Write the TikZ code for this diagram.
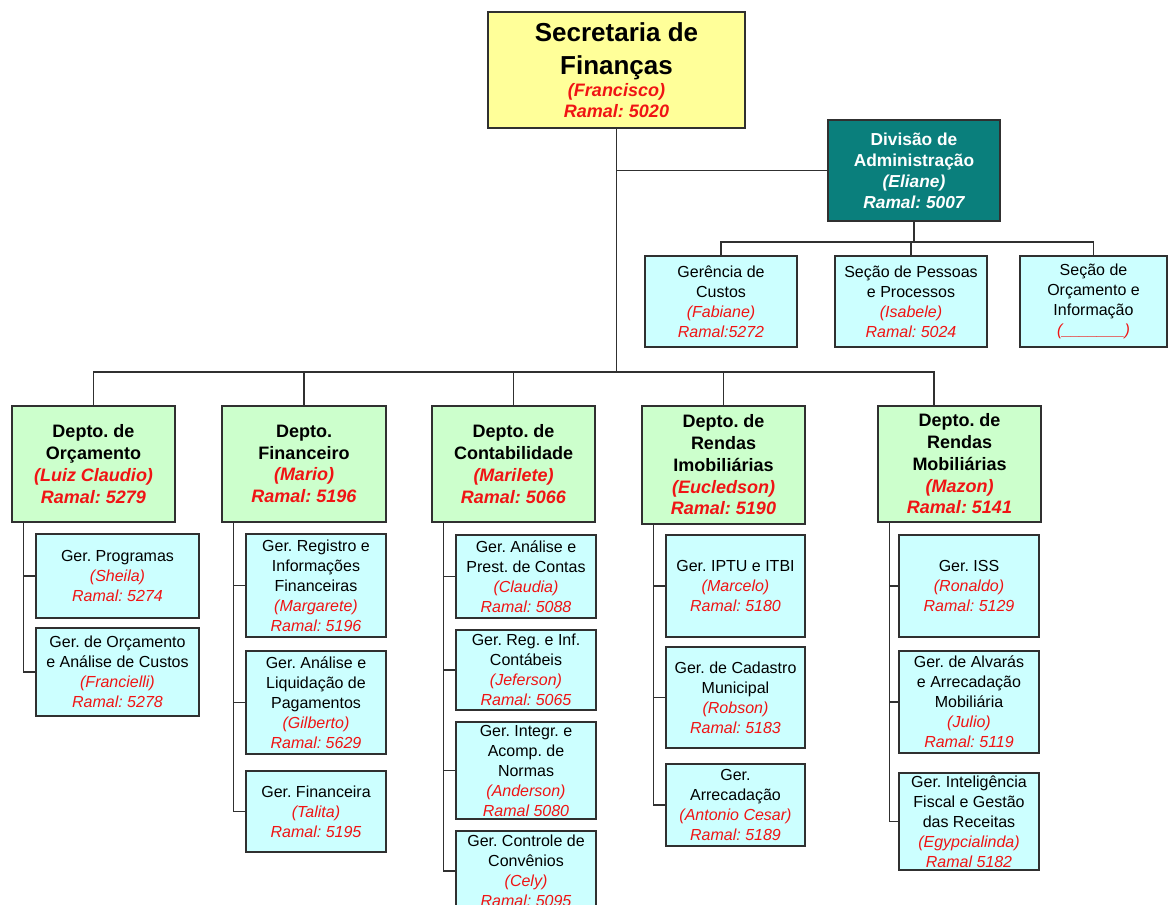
\documentclass[tikz,border=0pt]{standalone}
\usepackage{fontspec}
\setmainfont{Liberation Sans}
\usetikzlibrary{calc}
\frenchspacing
\definecolor{yel}{HTML}{FFFF99}
\definecolor{tealbox}{HTML}{0A7F7C}
\definecolor{grn}{HTML}{CCFFCC}
\definecolor{cyn}{HTML}{CCFFFF}
\definecolor{rd}{HTML}{F01414}
\definecolor{bd}{HTML}{303030}
\newcommand\obox[7]{\node[#1, minimum width={(#5-#3)*0.75pt}, minimum height={(#6-#4)*0.75pt}] (#2) at ({(#3+#5)/2},{(#4+#6)/2}) {#7};}
\newcommand\rn[1]{{\color{rd}\itshape #1}}
\newcommand\rtop[1]{{\fontsize{13.5}{16.5}\selectfont\color{rd}\itshape #1}}
\newcommand\ital[1]{{\itshape #1}}
\tikzset{
  orgbox/.style={draw=bd, line width=1pt, inner sep=1pt, align=center},
  topbox/.style={orgbox, fill=yel, font=\fontsize{19.5}{24.75}\selectfont\bfseries},
  divbox/.style={orgbox, fill=tealbox, text=white, font=\fontsize{13}{15.75}\selectfont\bfseries},
  depbox/.style={orgbox, fill=grn, font=\fontsize{13.5}{16.3}\selectfont\bfseries},
  subbox/.style={orgbox, fill=cyn, font=\fontsize{12}{15}\selectfont},
  link/.style={draw=bd, line width=0.9pt},
}
\begin{document}
\begin{tikzpicture}[x=0.75pt,y=-0.75pt]
\clip (0,0) rectangle (1169,905);
\fill[white] (0,0) rectangle (1169,905);
% top
\obox{topbox}{sec}{488}{12}{745}{128}{Secretaria de\\ Finanças\\[-8.25pt] \rtop{(Francisco)}\\[-9pt] \rtop{Ramal: 5020}}
\obox{divbox}{div}{828}{120}{1000}{221}{Divisão de\\ Administração\\ \ital{(Eliane)}\\ \ital{Ramal: 5007}}
% row 2
\obox{subbox}{gc}{645}{256}{797}{347}{Gerência de\\ Custos\\ \rn{(Fabiane)}\\ \rn{Ramal:5272}}
\obox{subbox}{spp}{835}{256}{987}{347}{Seção de Pessoas\\ e Processos\\ \rn{(Isabele)}\\ \rn{Ramal: 5024}}
\obox{subbox}{soi}{1020}{256}{1167}{347}{Seção de\\ Orçamento e\\ Informação\\ \rn{(\_\_\_\_\_\_\_)}}
% deptos
\obox{depbox}{d1}{12}{406}{175}{522}{Depto. de\\ Orçamento\\ \rn{(Luiz Claudio)}\\ \rn{Ramal: 5279}}
\obox{depbox}{d2}{222}{406}{386}{522}{Depto.\\ Financeiro\\ \rn{(Mario)}\\ \rn{Ramal: 5196}}
\obox{depbox}{d3}{432}{406}{595}{522}{Depto. de\\ Contabilidade\\ \rn{(Marilete)}\\ \rn{Ramal: 5066}}
\obox{depbox}{d4}{642}{406}{805}{524}{Depto. de\\ Rendas\\ Imobiliárias\\ \rn{(Eucledson)}\\ \rn{Ramal: 5190}}
\obox{depbox}{d5}{878}{406}{1041}{522}{Depto. de\\ Rendas\\ Mobiliárias\\ \rn{(Mazon)}\\ \rn{Ramal: 5141}}
% subs d1
\obox{subbox}{s11}{36}{534}{199}{618}{Ger. Programas\\ \rn{(Sheila)}\\ \rn{Ramal: 5274}}
\obox{subbox}{s12}{36}{628}{199}{716}{Ger. de Orçamento\\ e Análise de Custos\\ \rn{(Francielli)}\\ \rn{Ramal: 5278}}
% subs d2
\obox{subbox}{s21}{246}{534}{386}{637}{Ger. Registro e\\ Informações\\ Financeiras\\ \rn{(Margarete)}\\ \rn{Ramal: 5196}}
\obox{subbox}{s22}{246}{651}{386}{754}{Ger. Análise e\\ Liquidação de\\ Pagamentos\\ \rn{(Gilberto)}\\ \rn{Ramal: 5629}}
\obox{subbox}{s23}{246}{771}{386}{852}{Ger. Financeira\\ \rn{(Talita)}\\ \rn{Ramal: 5195}}
% subs d3
\obox{subbox}{s31}{456}{535}{596}{618}{Ger. Análise e\\ Prest. de Contas\\ \rn{(Claudia)}\\ \rn{Ramal: 5088}}
\obox{subbox}{s32}{456}{630}{596}{710}{Ger. Reg. e Inf.\\ Contábeis\\ \rn{(Jeferson)}\\ \rn{Ramal: 5065}}
\obox{subbox}{s33}{456}{722}{596}{819}{Ger. Integr. e\\ Acomp. de\\ Normas\\ \rn{(Anderson)}\\ \rn{Ramal 5080}}
\obox{subbox}{s34}{456}{831}{596}{911}{Ger. Controle de\\ Convênios\\ \rn{(Cely)}\\ \rn{Ramal: 5095}}
% subs d4
\obox{subbox}{s41}{666}{535}{805}{637}{Ger. IPTU e ITBI\\ \rn{(Marcelo)}\\ \rn{Ramal: 5180}}
\obox{subbox}{s42}{666}{647}{805}{748}{Ger. de Cadastro\\ Municipal\\ \rn{(Robson)}\\ \rn{Ramal: 5183}}
\obox{subbox}{s43}{666}{764}{805}{846}{Ger.\\ Arrecadação\\ \rn{(Antonio Cesar)}\\ \rn{Ramal: 5189}}
% subs d5
\obox{subbox}{s51}{899}{535}{1039}{637}{Ger. ISS\\ \rn{(Ronaldo)}\\ \rn{Ramal: 5129}}
\obox{subbox}{s52}{899}{651}{1039}{753}{Ger. de Alvarás\\ e Arrecadação\\ Mobiliária\\ \rn{(Julio)}\\ \rn{Ramal: 5119}}
\obox{subbox}{s53}{899}{773}{1039}{870}{Ger. Inteligência\\ Fiscal e Gestão\\ das Receitas\\ \rn{(Egypcialinda)}\\ \rn{Ramal 5182}}
% connectors
\coordinate (bar) at (619,372);
\coordinate (bar2) at (912,242);
\coordinate (d5top) at ([xshift=-19.1pt]d5.north);
\draw[link] (sec.south) -- (sec.south |- bar);
\draw[link] (sec.south |- div.west) -- (div.west);
\draw[link] (d1.north) |- (d5top |- bar) -- (d5top);
\foreach \d in {d2,d3,d4} \draw[link] (\d.north) -- (\d.north |- bar);
\draw[link] (div.south) -- (div.south |- bar2);
\draw[link] (gc.north) |- (bar2) -| (soi.north);
\draw[link] (spp.north) -- (spp.north |- bar2);
% spines
\foreach \d/\last/\subs in {d1/s12/{s11},d2/s23/{s21,s22},d3/s34/{s31,s32,s33},d4/s43/{s41,s42},d5/s53/{s51,s52}}{
  \coordinate (sp) at ([xshift=9pt]\d.south west);
  \draw[link] (sp) |- (\last.west);
  \foreach \s in \subs \draw[link] (sp |- \s.west) -- (\s.west);
}
\end{tikzpicture}
\end{document}
